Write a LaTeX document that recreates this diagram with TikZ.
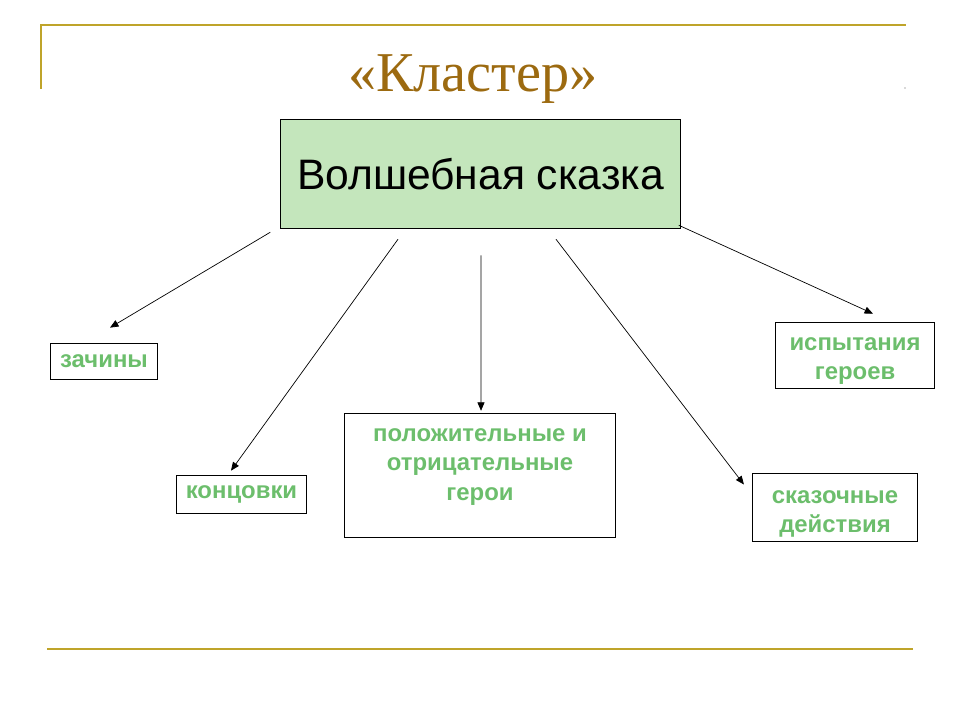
\documentclass[tikz,border=0pt]{standalone}
\usepackage{fontspec}
\setmainfont{Liberation Sans}
\newfontfamily\titlefont{Liberation Serif}
\usetikzlibrary{arrows.meta, calc, positioning}
\definecolor{gold}{HTML}{BFA42A}
\definecolor{titlebrown}{HTML}{9C6A10}
\definecolor{leafgreen}{HTML}{6CBE6C}
\definecolor{mainfill}{HTML}{C4E6BC}
\tikzset{
    x=0.025cm, y=-0.025cm,
    arr/.style={-{Triangle[length=6pt,width=5pt]}, line width=0.5pt},
    frame/.style={draw=gold, line width=1.6pt},
    mainbox/.style={rectangle, draw, fill=mainfill, line width=0.6pt,
        minimum width=284.2pt, minimum height=78pt,
        font=\fontsize{30.3}{35}\selectfont},
    leaf/.style={rectangle, draw, line width=0.6pt, text=leafgreen, align=center,
        inner sep=0pt, font=\bfseries\fontsize{17}{20.8}\selectfont}
}

\begin{document}
\begin{tikzpicture}
  \useasboundingbox (0,0) rectangle (960,720);

  % frame
  \draw[frame] (41,89) -- (41,25) -- (906,25);
  \draw[frame] (47,649) -- (913,649);
  \fill[gray!60] (905,88) circle (0.6pt);

  \node[anchor=base, text=titlebrown, font=\titlefont\fontsize{40}{46}\selectfont]
    (title) at (473,92) {«Кластер»};

  \node[mainbox] (main) at (480.5,174) {Волшебная сказка};

  \node[leaf, minimum width=76.5pt, minimum height=25.5pt] (b1) at (104,361) {зачины};
  \node[leaf, minimum width=92.8pt, minimum height=27.6pt] (b2) at (241.5,494.5) {концовки};
  \node[leaf, minimum width=192.8pt, minimum height=88.6pt] (b3) at (480,475.5)
    {\parbox[c][88.6pt][t]{190pt}{\centering\vspace*{11pt}положительные и\\отрицательные\hspace*{4pt}\\герои}};
  \node[leaf, minimum width=113.4pt, minimum height=47.5pt] (b4) at (855,355.5)
    {\parbox[c][47.5pt][c]{110pt}{\centering\vspace*{8pt}испытания\\героев}};
  \node[leaf, minimum width=117.6pt, minimum height=48.2pt] (b5) at (835,507.5)
    {\parbox[c][48.2pt][c]{114pt}{\centering\vspace*{9pt}сказочные\\действия}};

  \path[arr] ($(main.south west)+(-10,3)$) edge ($(b1.north)+(6,-15)$);
  \path[arr] ($(main.south)+(-82.5,10)$) edge ($(b2.north)+(-10.5,-4)$);
  \path[arr] ($(main.south)+(0.5,26)$) edge ($(b3.north)+(1,-2)$);
  \path[arr] ($(main.south)+(75.5,10)$) edge ($(b5.west)+(-8,-23)$);
  \path[arr] ($(main.south east)+(-2,-4)$) edge ($(b4.north)+(18,-8)$);
\end{tikzpicture}
\end{document}
